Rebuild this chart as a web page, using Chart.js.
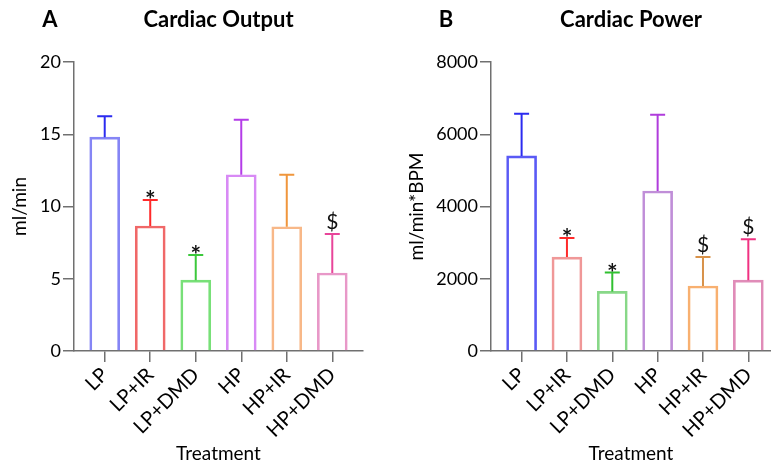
<!DOCTYPE html>
<html>
<head>
<meta charset="utf-8">
<script src="https://cdn.jsdelivr.net/npm/chart.js@4"></script>
<style>
  html, body { margin: 0; padding: 0; background: #fff; }
  #wrap { position: relative; width: 771px; height: 465px; overflow: hidden; }
  canvas { position: absolute; top: 0; }
</style>
</head>
<body>
<div id="wrap">
  <canvas id="coChart" width="395" height="465" style="left:0"></canvas>
  <canvas id="cpChart" width="376" height="465" style="left:395px"></canvas>
</div>
<script>
const groups = ['LP', 'LP+IR', 'LP+DMD', 'HP', 'HP+IR', 'HP+DMD'];

// Cardiac output (ml/min), mean and SD
const coMean = [14.8, 8.65, 4.9, 12.2, 8.6, 5.4];
const coSD = [1.45, 1.8, 1.75, 3.8, 3.6, 2.7];
const coMarks = ['', '*', '*', '', '', '$'];

// Cardiac power (ml/min*BPM), mean and SD
const cpMean = [5400, 2600, 1650, 4430, 1800, 1960];
const cpSD = [1170, 530, 520, 2110, 800, 1130];
const cpMarks = ['', '*', '*', '', '$', '$'];

const FONT = 'Lato, "Open Sans", sans-serif';
const AXIS = '#707070';

const coBorder = ['#8585f5', '#f06868', '#78e078', '#d88af5', '#f8b888', '#e898c8'];
const coErr = ['#2b2bf0', '#ff2a2a', '#3cc83c', '#b43ce8', '#f0963c', '#e8459a'];
const cpBorder = ['#5a5af5', '#f09898', '#88d888', '#c08ed8', '#f8b070', '#e08cb8'];
const cpErr = ['#2b2bf0', '#ff2a2a', '#30c030', '#b03cdc', '#d8924a', '#f03282'];

// error bars, significance marks, panel letter and heading
const extras = {
  id: 'extras',
  afterDatasetsDraw(chart, args, opts) {
    const ctx = chart.ctx;
    const xs = chart.scales.x, ys = chart.scales.y;
    ctx.save();
    opts.mean.forEach((m, i) => {
      const x = xs.getPixelForValue(i);
      const y0 = ys.getPixelForValue(m);
      const y1 = ys.getPixelForValue(m + opts.sd[i]);
      ctx.strokeStyle = opts.errColors[i];
      ctx.lineWidth = 2;
      ctx.beginPath();
      ctx.moveTo(x, y0);
      ctx.lineTo(x, y1);
      ctx.moveTo(x - 7.5, y1);
      ctx.lineTo(x + 7.5, y1);
      ctx.stroke();
      const mk = opts.marks[i];
      if (mk) {
        ctx.fillStyle = '#111';
        ctx.textAlign = 'center';
        ctx.textBaseline = 'alphabetic';
        if (mk === '*') {
          ctx.font = 'bold 25px ' + FONT;
          ctx.fillText(mk, x, y1 + 9);
        } else {
          ctx.font = '21px ' + FONT;
          ctx.fillText(mk, x, y1 - 5);
        }
      }
    });
    const area = chart.chartArea;
    ctx.fillStyle = '#000';
    ctx.font = 'bold 22px ' + FONT;
    ctx.textBaseline = 'middle';
    ctx.textAlign = 'center';
    ctx.fillText(opts.letter, opts.letterX, 20);
    ctx.fillText(opts.heading, (area.left + area.right) / 2, 20);
    ctx.restore();
  }
};

function makeChart(id, cfg) {
  const ctx = document.getElementById(id).getContext('2d');
  return new Chart(ctx, {
    type: 'bar',
    data: {
      datasets: [{
        data: cfg.mean.map((v, i) => ({ x: i, y: v })),
        backgroundColor: 'rgba(255,255,255,0)',
        borderColor: cfg.border,
        borderWidth: 2,
        borderSkipped: 'bottom',
        barThickness: 30
      }]
    },
    options: {
      responsive: false,
      devicePixelRatio: 1,
      animation: false,
      layout: { padding: { top: 62, left: 0, right: cfg.padRight, bottom: 0 } },
      plugins: {
        legend: { display: false },
        tooltip: { enabled: false },
        extras: {
          mean: cfg.mean, sd: cfg.sd, marks: cfg.marks, errColors: cfg.err,
          letter: cfg.letter, letterX: cfg.letterX, heading: cfg.heading
        }
      },
      scales: {
        x: {
          type: 'linear',
          offset: false,
          min: -0.675,
          max: cfg.xMax,
          afterBuildTicks: s => { s.ticks = groups.map((g, i) => ({ value: i })); },
          afterFit: s => { s.height = 114; },
          ticks: {
            callback: v => groups[v],
            minRotation: 45, maxRotation: 45,
            padding: 1,
            color: '#000',
            font: { family: FONT, size: 20 }
          },
          grid: { offset: false, drawOnChartArea: false, color: AXIS, lineWidth: 1.5, tickLength: 11 },
          border: { color: AXIS, width: 1.5 },
          title: { display: true, text: 'Treatment', color: '#000', font: { family: FONT, size: 19 }, padding: 0 }
        },
        y: {
          min: 0,
          max: cfg.yMax,
          afterFit: s => { s.width = cfg.yWidth; },
          ticks: {
            stepSize: cfg.yStep,
            padding: 2,
            color: '#000',
            font: { family: FONT, size: 18 },
            callback: v => String(v)
          },
          grid: { drawOnChartArea: false, color: AXIS, lineWidth: 1.5, tickLength: 11 },
          border: { color: AXIS, width: 1.5 },
          title: { display: true, text: cfg.yTitle, color: '#000', font: { family: FONT, size: 19 }, padding: { top: cfg.titlePad, bottom: 0 } }
        }
      }
    },
    plugins: [extras]
  });
}

Chart.register(extras);

makeChart('coChart', {
  mean: coMean, sd: coSD, marks: coMarks, border: coBorder, err: coErr,
  letter: 'A', letterX: 50, heading: 'Cardiac Output',
  yMax: 20, yStep: 5, yTitle: 'ml/min', yWidth: 74, xMax: 5.675,
  padRight: 32, titlePad: 8
});

makeChart('cpChart', {
  mean: cpMean, sd: cpSD, marks: cpMarks, border: cpBorder, err: cpErr,
  letter: 'B', letterX: 51, heading: 'Cardiac Power',
  yMax: 8000, yStep: 2000, yTitle: 'ml/min*BPM', yWidth: 96, xMax: 5.5,
  padRight: 0, titlePad: 10
});
</script>
</body>
</html>
